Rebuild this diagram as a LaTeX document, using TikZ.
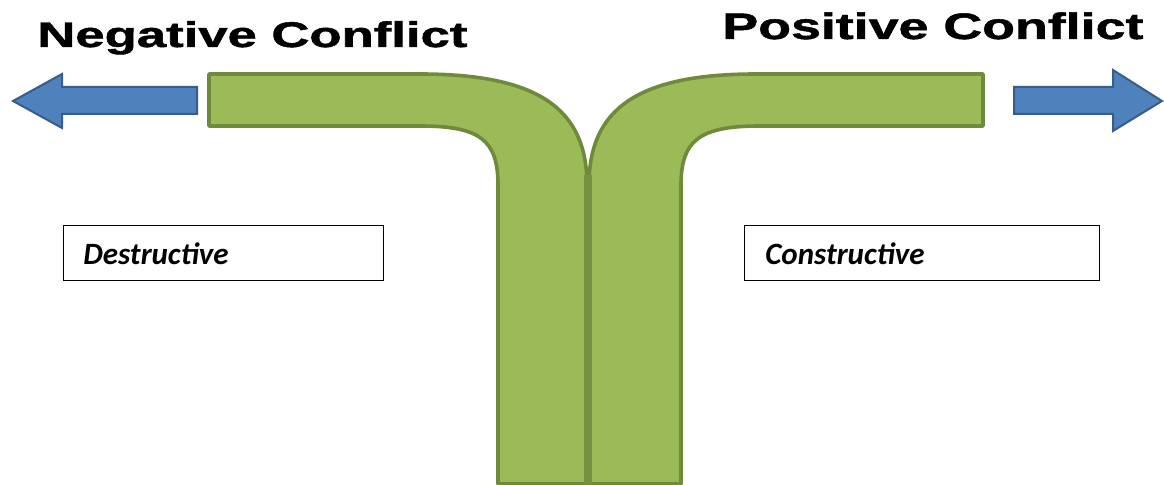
\documentclass[tikz,border=0pt]{standalone}
\usepackage{fontspec}
\usepackage{graphicx}
\setmainfont{Liberation Sans}
\newfontfamily\carlitofont{Carlito}
\newfontfamily\titlefont[FakeBold=1.2]{Liberation Sans Bold}
\definecolor{bandfill}{HTML}{9BBB59}
\definecolor{bandline}{HTML}{6F8A3A}
\definecolor{arrowfill}{HTML}{4F81BD}
\definecolor{arrowline}{HTML}{385D8A}
\tikzset{
  band/.style={fill=bandfill, draw=bandline, line width=1.8pt, line join=round},
  blockarrow/.style={fill=arrowfill, draw=arrowline, line width=1pt, line join=miter},
  title/.style={inner sep=0pt, anchor=base west, font=\titlefont},
  labelbox/.style={draw=black, line width=0.7pt, inner sep=0pt, minimum height=27.5pt, anchor=north west},
  labeltext/.style={inner sep=0pt, anchor=base west, font=\carlitofont\bfseries\itshape\fontsize{15.5pt}{18pt}\selectfont}
}
\begin{document}
\begin{tikzpicture}[x=0.5pt,y=-0.5pt]
\useasboundingbox (0,0) rectangle (1164,485);
% titles
\node[title] (neg) at (37,47) {\resizebox{215pt}{\height}{\fontsize{17.8pt}{20pt}\selectfont Negative Conflict}};
\node[title] (pos) at (722,39) {\resizebox{210.5pt}{\height}{\fontsize{18.4pt}{21pt}\selectfont Positive Conflict}};
% left band
\draw[band] (209,74) -- (420,74) .. controls (540,74) and (587,110) .. (587,185) -- (587,484)
  -- (498,484) -- (498,185) .. controls (498,140) and (480,126) .. (420,126) -- (209,126) -- cycle;
% right band
\draw[band] (983,74) -- (756,74) .. controls (636,74) and (589,110) .. (589,185) -- (589,484)
  -- (681,484) -- (681,185) .. controls (681,140) and (700,126) .. (760,126) -- (983,126) -- cycle;
% central seam
\fill[bandline!85!bandfill] (584,175) -- (592,175) -- (592,484) -- (584,484) -- cycle;
% arrows
\draw[blockarrow] (197,87) -- (62,87) -- (62,74) -- (13,101) -- (62,128) -- (62,114) -- (197,114) -- cycle;
\draw[blockarrow] (1014,87) -- (1113,87) -- (1113,70) -- (1162,101) -- (1113,131) -- (1113,114) -- (1014,114) -- cycle;
% label boxes
\node[labelbox, minimum width=160pt] (dbox) at (63,225) {};
\node[labeltext] (dtext) at (83,265) {Destructive};
\node[labelbox, minimum width=177.5pt] (cbox) at (744,225) {};
\node[labeltext] (ctext) at (765,265) {Constructive};
\end{tikzpicture}
\end{document}
